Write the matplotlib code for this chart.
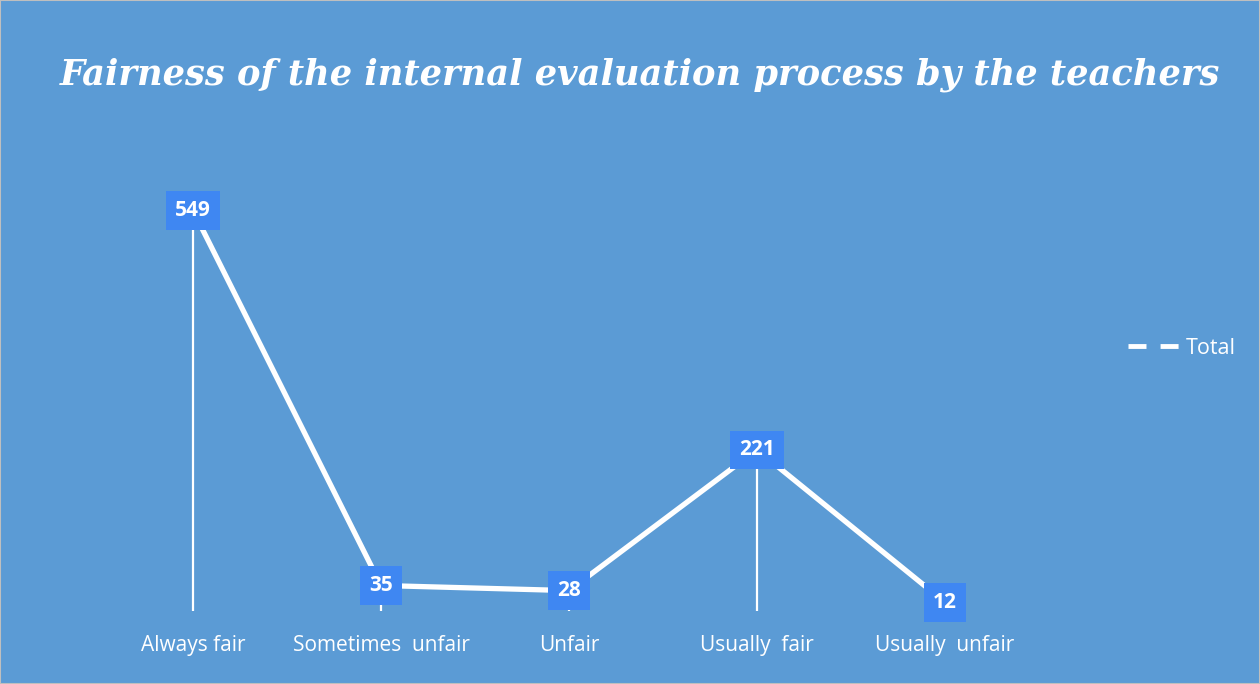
import matplotlib.pyplot as plt
from matplotlib.lines import Line2D

categories = ["Always fair", "Sometimes  unfair", "Unfair", "Usually  fair", "Usually  unfair"]
totals = [549, 35, 28, 221, 12]

bg = "#5B9BD5"
box = "#3F87F2"

fig = plt.figure(figsize=(12.6, 6.84), dpi=100, facecolor=bg)
ax = fig.add_axes([0.0786, 0.1067, 0.746, 0.64])
ax.set_facecolor(bg)

x = list(range(len(categories)))

# drop lines from each point down to the axis
ax.vlines(x, 0, totals, colors="white", lw=1.6, zorder=2)
ax.plot(x, totals, color="white", lw=3.8, solid_capstyle="round", zorder=3)

# data labels in filled boxes
for xi, v in zip(x, totals):
    ax.text(xi, v, str(v), ha="center", va="center", color="white",
            fontsize=15, fontweight="bold", family="Open Sans", zorder=5,
            bbox=dict(boxstyle="square,pad=0.42", fc=box, ec="none"))

ax.set_xlim(-0.5, 4.5)
ax.set_ylim(0, 600)
ax.set_xticks(x)
ax.set_xticklabels(categories, color="white", fontsize=15, family="Open Sans")
ax.tick_params(axis="x", length=0, pad=17)
ax.set_yticks([])
for s in ax.spines.values():
    s.set_visible(False)

fig.text(0.508, 0.891, "Fairness of the internal evaluation process by the teachers",
         ha="center", va="center", color="white", fontsize=25.4,
         fontweight="bold", fontstyle="italic", family="DejaVu Serif")

handle = Line2D([], [], color="white", lw=3.5, dashes=(3.7, 2.9))
fig.legend([handle], ["Total"], loc="center left", bbox_to_anchor=(0.8798, 0.491),
           frameon=False, handlelength=2.4, handletextpad=0.28,
           prop={"family": "Open Sans", "size": 15.5}, labelcolor="white")

# thin grey frame around the chart
fig.patches.append(plt.Rectangle((0, 0), 1, 1, transform=fig.transFigure,
                                 fill=False, ec="#BFBFBF", lw=1.5))

fig.savefig("out.png", dpi=100, facecolor=bg)
